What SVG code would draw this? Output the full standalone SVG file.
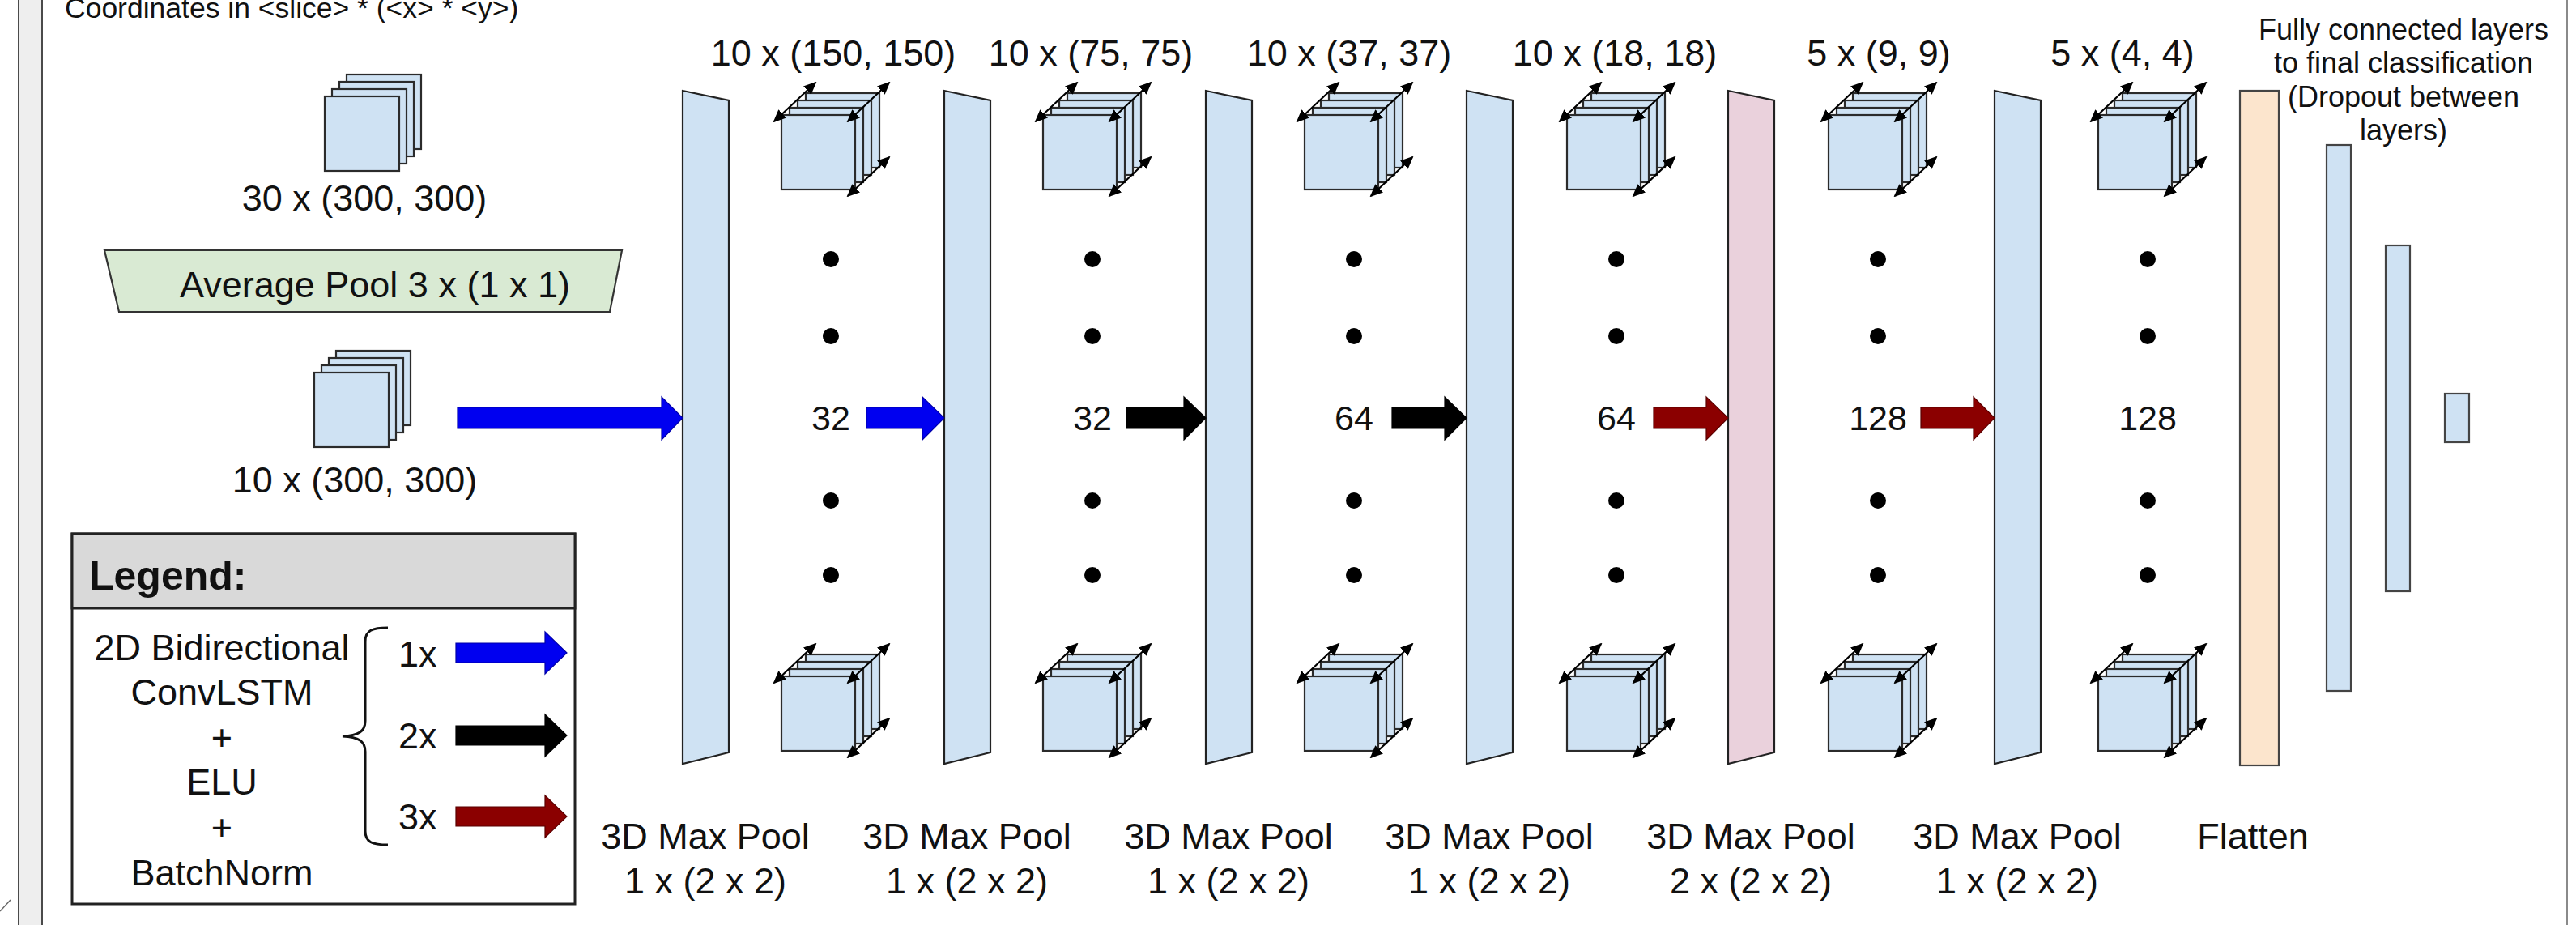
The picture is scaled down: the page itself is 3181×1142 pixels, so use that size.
<svg xmlns="http://www.w3.org/2000/svg" xmlns:xlink="http://www.w3.org/1999/xlink" width="3181" height="1142" viewBox="0 0 3181 1142">
  <style>
    text { font-family: 'Liberation Sans', Arial, sans-serif; fill: #111; }
    .lbl { font-size: 45px; }
    .mid { text-anchor: middle; }
    .num { font-size: 43px; text-anchor: middle; }
    .fc { font-size: 36px; text-anchor: middle; }
    .sheet { fill: #cfe2f3; stroke: #2b2b2b; stroke-width: 2.2; }
    .layer { fill: #cfe2f3; stroke: #222; stroke-width: 2.2; }
    .pink { fill: #ead1dc; }
    .bar { fill: #cfe2f3; stroke: #444; stroke-width: 2.2; }
    .depth { stroke: #000; stroke-width: 2.2; fill: none; marker-start: url(#tip); marker-end: url(#tip); }
    .dot { fill: #000; }
    .a-blue { fill: #0000f0; stroke: #0000a8; stroke-width: 1.2; }
    .a-black { fill: #000; stroke: #000; stroke-width: 1.2; }
    .a-red { fill: #8b0000; stroke: #5a0000; stroke-width: 1.2; }
  </style>
  <defs>
    <marker id="tip" viewBox="0 0 16 14" refX="14" refY="7" markerWidth="16" markerHeight="14" markerUnits="userSpaceOnUse" orient="auto-start-reverse">
      <path d="M0,0 L16,7 L0,14 Z" fill="#000"/>
    </marker>
    <!-- stack of four flat slices, origin at the front sheet's top-left -->
    <g id="stack">
      <rect class="sheet" x="27" y="-27" width="92" height="92"/>
      <rect class="sheet" x="18" y="-18" width="92" height="92"/>
      <rect class="sheet" x="9" y="-9" width="92" height="92"/>
      <rect class="sheet" x="0" y="0" width="92" height="92"/>
    </g>
    <!-- feature-map volume with depth arrows, origin at the front face's top-left -->
    <g id="cube">
      <rect class="sheet" x="30" y="-27" width="91" height="92"/>
      <rect class="sheet" x="20" y="-18" width="91" height="92"/>
      <rect class="sheet" x="10" y="-9" width="91" height="92"/>
      <rect class="sheet" x="0" y="0" width="91" height="92"/>
      <line class="depth" x1="-9" y1="8" x2="42" y2="-40"/>
      <line class="depth" x1="82" y1="8" x2="133" y2="-40"/>
      <line class="depth" x1="82" y1="100" x2="133" y2="52"/>
    </g>
    <!-- slanted pooling plane -->
    <polygon id="plane" points="0,0 57,12 57,817 0,831"/>
  </defs>

  <rect width="3181" height="1142" fill="#fff"/>

  <!-- page frame -->
  <g id="frame">
    <rect x="23" y="-4" width="29" height="1150" fill="#eeeeee" stroke="#4a4a4a" stroke-width="2"/>
    <line x1="3170" y1="0" x2="3170" y2="1142" stroke="#8a8a8a" stroke-width="2"/>
    <line x1="0" y1="1125" x2="13" y2="1111" stroke="#666" stroke-width="1.5"/>
  </g>

  <text x="80" y="22" style="font-size:35.5px">Coordinates in &lt;slice&gt; * (&lt;x&gt; * &lt;y&gt;)</text>

  <!-- raw input volume -->
  <g id="input-30">
    <use xlink:href="#stack" x="401" y="119"/>
    <text class="lbl mid" x="450" y="260">30 x (300, 300)</text>
  </g>

  <g id="avgpool">
    <polygon points="129,309 768,309 753,385 147,385" fill="#d9ead3" stroke="#333" stroke-width="2.2"/>
    <text class="lbl" x="222" y="367">Average Pool 3 x (1 x 1)</text>
  </g>

  <g id="input-10">
    <use xlink:href="#stack" x="388" y="460"/>
    <text class="lbl mid" x="438" y="608">10 x (300, 300)</text>
  </g>

  <!-- pooling planes -->
  <g id="layer-1"><use xlink:href="#plane" class="layer" x="843" y="112"/>
    <text class="lbl mid" x="871" y="1048">3D Max Pool</text><text class="lbl mid" x="871" y="1103">1 x (2 x 2)</text></g>
  <g id="layer-2"><use xlink:href="#plane" class="layer" x="1166" y="112"/>
    <text class="lbl mid" x="1194" y="1048">3D Max Pool</text><text class="lbl mid" x="1194" y="1103">1 x (2 x 2)</text></g>
  <g id="layer-3"><use xlink:href="#plane" class="layer" x="1489" y="112"/>
    <text class="lbl mid" x="1517" y="1048">3D Max Pool</text><text class="lbl mid" x="1517" y="1103">1 x (2 x 2)</text></g>
  <g id="layer-4"><use xlink:href="#plane" class="layer" x="1811" y="112"/>
    <text class="lbl mid" x="1839" y="1048">3D Max Pool</text><text class="lbl mid" x="1839" y="1103">1 x (2 x 2)</text></g>
  <g id="layer-5"><use xlink:href="#plane" class="layer pink" x="2134" y="112"/>
    <text class="lbl mid" x="2162" y="1048">3D Max Pool</text><text class="lbl mid" x="2162" y="1103">2 x (2 x 2)</text></g>
  <g id="layer-6"><use xlink:href="#plane" class="layer" x="2463" y="112"/>
    <text class="lbl mid" x="2491" y="1048">3D Max Pool</text><text class="lbl mid" x="2491" y="1103">1 x (2 x 2)</text></g>

  <!-- feature-map columns -->
  <g id="maps-1">
    <text class="lbl mid" x="1029" y="81">10 x (150, 150)</text>
    <use xlink:href="#cube" x="965" y="142"/><use xlink:href="#cube" x="965" y="835"/>
    <circle class="dot" cx="1026" cy="320" r="10"/><circle class="dot" cx="1026" cy="415" r="10"/>
    <circle class="dot" cx="1026" cy="618" r="10"/><circle class="dot" cx="1026" cy="710" r="10"/>
    <text class="num" x="1026" y="531">32</text>
  </g>
  <g id="maps-2">
    <text class="lbl mid" x="1347" y="81">10 x (75, 75)</text>
    <use xlink:href="#cube" x="1288" y="142"/><use xlink:href="#cube" x="1288" y="835"/>
    <circle class="dot" cx="1349" cy="320" r="10"/><circle class="dot" cx="1349" cy="415" r="10"/>
    <circle class="dot" cx="1349" cy="618" r="10"/><circle class="dot" cx="1349" cy="710" r="10"/>
    <text class="num" x="1349" y="531">32</text>
  </g>
  <g id="maps-3">
    <text class="lbl mid" x="1666" y="81">10 x (37, 37)</text>
    <use xlink:href="#cube" x="1611" y="142"/><use xlink:href="#cube" x="1611" y="835"/>
    <circle class="dot" cx="1672" cy="320" r="10"/><circle class="dot" cx="1672" cy="415" r="10"/>
    <circle class="dot" cx="1672" cy="618" r="10"/><circle class="dot" cx="1672" cy="710" r="10"/>
    <text class="num" x="1672" y="531">64</text>
  </g>
  <g id="maps-4">
    <text class="lbl mid" x="1994" y="81">10 x (18, 18)</text>
    <use xlink:href="#cube" x="1935" y="142"/><use xlink:href="#cube" x="1935" y="835"/>
    <circle class="dot" cx="1996" cy="320" r="10"/><circle class="dot" cx="1996" cy="415" r="10"/>
    <circle class="dot" cx="1996" cy="618" r="10"/><circle class="dot" cx="1996" cy="710" r="10"/>
    <text class="num" x="1996" y="531">64</text>
  </g>
  <g id="maps-5">
    <text class="lbl mid" x="2320" y="81">5 x (9, 9)</text>
    <use xlink:href="#cube" x="2258" y="142"/><use xlink:href="#cube" x="2258" y="835"/>
    <circle class="dot" cx="2319" cy="320" r="10"/><circle class="dot" cx="2319" cy="415" r="10"/>
    <circle class="dot" cx="2319" cy="618" r="10"/><circle class="dot" cx="2319" cy="710" r="10"/>
    <text class="num" x="2319" y="531">128</text>
  </g>
  <g id="maps-6">
    <text class="lbl mid" x="2621" y="81">5 x (4, 4)</text>
    <use xlink:href="#cube" x="2591" y="142"/><use xlink:href="#cube" x="2591" y="835"/>
    <circle class="dot" cx="2652" cy="320" r="10"/><circle class="dot" cx="2652" cy="415" r="10"/>
    <circle class="dot" cx="2652" cy="618" r="10"/><circle class="dot" cx="2652" cy="710" r="10"/>
    <text class="num" x="2652" y="531">128</text>
  </g>

  <g id="flatten">
    <rect x="2766" y="112" width="48" height="833" fill="#fce5cd" stroke="#444" stroke-width="2.2"/>
    <text class="lbl mid" x="2782" y="1048">Flatten</text>
  </g>

  <g id="dense">
    <rect class="bar" x="2873" y="179" width="30" height="674"/>
    <rect class="bar" x="2946" y="303" width="30" height="427"/>
    <rect class="bar" x="3019" y="486" width="30" height="60"/>
    <text class="fc" x="2968" y="49">Fully connected layers</text>
    <text class="fc" x="2968" y="90">to final classification</text>
    <text class="fc" x="2968" y="132">(Dropout between</text>
    <text class="fc" x="2968" y="173">layers)</text>
  </g>

  <!-- ConvLSTM blocks -->
  <g id="connectors">
    <path class="a-blue" d="M565,503 H817 V490 L843,516 L817,543 V529 H565 Z"/>
    <path class="a-blue" d="M1070,503 H1139 V490 L1166,516 L1139,543 V529 H1070 Z"/>
    <path class="a-black" d="M1391,503 H1462 V490 L1489,516 L1462,543 V529 H1391 Z"/>
    <path class="a-black" d="M1719,503 H1784 V490 L1811,516 L1784,543 V529 H1719 Z"/>
    <path class="a-red" d="M2042,503 H2107 V490 L2134,516 L2107,543 V529 H2042 Z"/>
    <path class="a-red" d="M2372,503 H2437 V490 L2463,516 L2437,543 V529 H2372 Z"/>
  </g>

  <g id="legend">
    <rect x="89" y="659" width="621" height="457" fill="#fff" stroke="#222" stroke-width="3"/>
    <rect x="89" y="659" width="621" height="92" fill="#d9d9d9" stroke="#222" stroke-width="3"/>
    <text x="110" y="728" style="font-size:50px;font-weight:bold">Legend:</text>
    <text class="lbl mid" x="274" y="815">2D Bidirectional</text>
    <text class="lbl mid" x="274" y="870">ConvLSTM</text>
    <text class="lbl mid" x="274" y="926">+</text>
    <text class="lbl mid" x="274" y="981">ELU</text>
    <text class="lbl mid" x="274" y="1037">+</text>
    <text class="lbl mid" x="274" y="1093">BatchNorm</text>
    <path d="M479,775 C460,775 451,778 451,792 V890 C451,903 443,908 423,909 C443,910 451,915 451,928 V1026 C451,1040 460,1043 479,1043" fill="none" stroke="#111" stroke-width="3"/>
    <text class="lbl" x="492" y="823">1x</text>
    <text class="lbl" x="492" y="924">2x</text>
    <text class="lbl" x="492" y="1024">3x</text>
    <path class="a-blue" d="M563,794 H673 V780 L700,806 L673,832 V818 H563 Z"/>
    <path class="a-black" d="M563,896 H673 V882 L700,908 L673,934 V920 H563 Z"/>
    <path class="a-red" d="M563,996 H673 V982 L700,1008 L673,1034 V1020 H563 Z"/>
  </g>
</svg>
